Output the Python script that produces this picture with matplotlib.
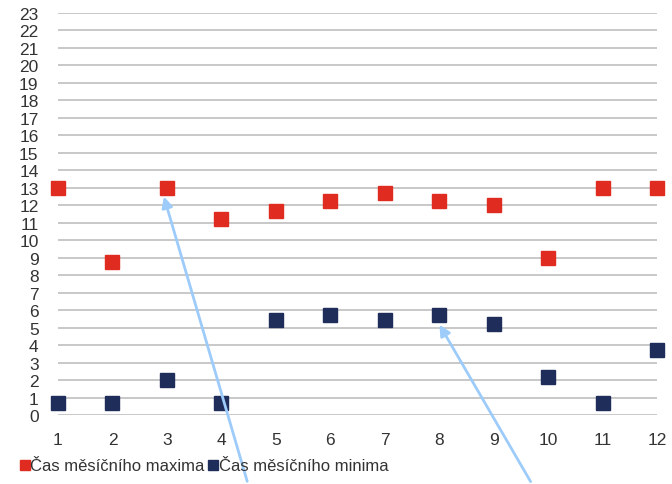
import matplotlib.pyplot as plt
from matplotlib.lines import Line2D

plt.rcParams['font.family'] = ['Liberation Sans', 'DejaVu Sans']

months = [1, 2, 3, 4, 5, 6, 7, 8, 9, 10, 11, 12]
cas_maxima = [13, 8.75, 13, 11.2, 11.7, 12.25, 12.7, 12.25, 12.0, 9.0, 13, 13]
cas_minima = [0.7, 0.7, 2.0, 0.7, 5.45, 5.7, 5.45, 5.7, 5.2, 2.2, 0.7, 3.7]
label_max = "Čas měsíčního maxima"
label_min = "Čas měsíčního minima"

red = '#E02B20'
navy = '#1F2D5A'
arrow_col = '#9DCBFA'

fig = plt.figure(figsize=(6.72, 4.85), dpi=100)
ax = fig.add_axes([58/672, 1-416/485, 599/672, 402/485])

ax.plot(months, cas_maxima, 's', color=red, markersize=10, clip_on=False, zorder=3)
ax.plot(months, cas_minima, 's', color=navy, markersize=10, clip_on=False, zorder=3)

ax.set_xlim(1, 12)
ax.set_ylim(0, 23)
ax.set_xticks(months)
ax.set_yticks(range(0, 24))
ax.grid(axis='y', color='#BFBFBF', lw=1.2)
ax.set_axisbelow(True)
for s in ax.spines.values():
    s.set_visible(False)
ax.tick_params(length=0, labelsize=12.5, colors='#333333')
ax.tick_params(axis='y', pad=14)
ax.tick_params(axis='x', pad=12)

# arrows pointing into the chart
ax.annotate('', xy=(2.93, 12.65), xycoords='data',
            xytext=(248/672, 0), textcoords='figure fraction',
            arrowprops=dict(arrowstyle='-|>', color=arrow_col, lw=2, mutation_scale=16),
            annotation_clip=False)
ax.annotate('', xy=(7.98, 5.3), xycoords='data',
            xytext=(532/672, 0), textcoords='figure fraction',
            arrowprops=dict(arrowstyle='-|>', color=arrow_col, lw=2, mutation_scale=16),
            annotation_clip=False)

handles = [Line2D([], [], ls='', marker='s', color=red, markersize=7),
           Line2D([], [], ls='', marker='s', color=navy, markersize=7)]
fig.legend(handles, [label_max, label_min], loc='center left',
           bbox_to_anchor=(0.008, 1-467/485), ncol=2, frameon=False,
           handlelength=0.5, handletextpad=0.1, columnspacing=0.25,
           fontsize=12, labelcolor='#333333')

fig.savefig('out.png', dpi=100)
